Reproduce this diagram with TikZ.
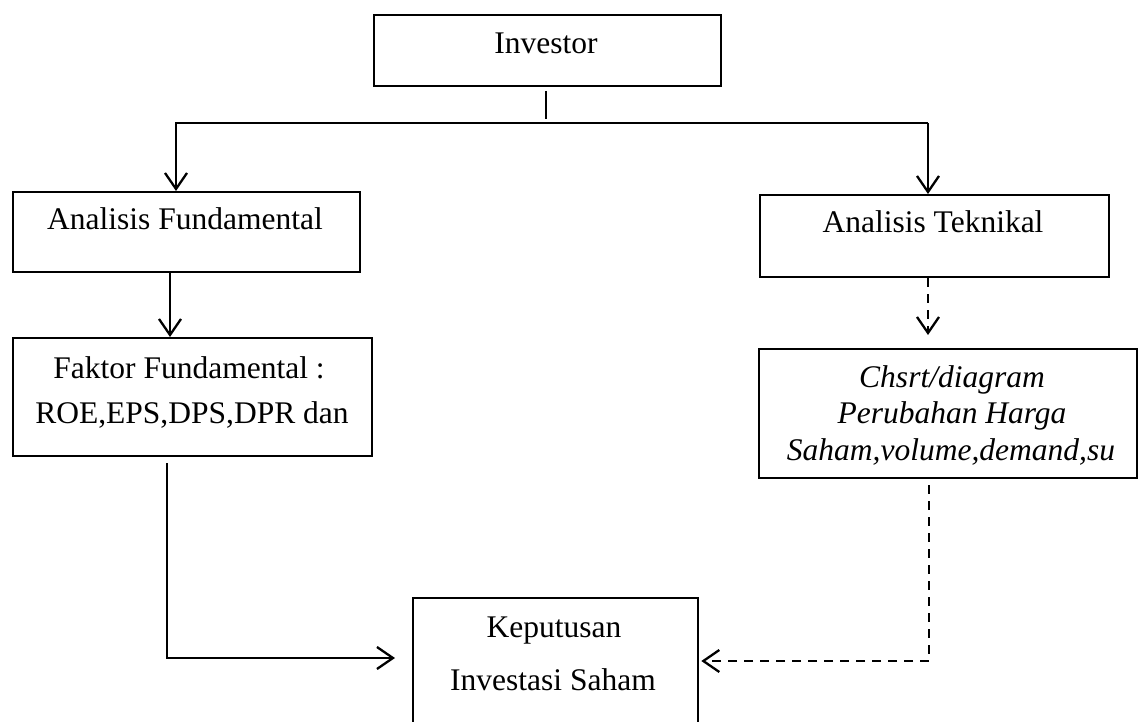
\documentclass[tikz,border=0pt]{standalone}
\usepackage{fontspec}
\setmainfont{Liberation Serif}
\usetikzlibrary{arrows.meta}
\begin{document}
\begin{tikzpicture}[x=1pt,y=-1pt,
  box/.style={draw,line width=2.3pt,inner sep=0pt,anchor=north west},
  txt/.style={anchor=base,inner sep=0pt,font=\fontsize{31.5}{36}\selectfont},
  conn/.style={line width=2.3pt},
  arr/.style={conn,-{Straight Barb[length=16pt,width=22pt,line width=2.3pt]}},
  dsh/.style={dash pattern=on 9pt off 7pt}]
\useasboundingbox (0,0) rectangle (1141,722);
% boxes
\node[box,minimum width=347pt,minimum height=71pt] (inv) at (373,14) {};
\node[box,minimum width=347pt,minimum height=80pt] (af) at (12,191) {};
\node[box,minimum width=349pt,minimum height=82pt] (at) at (759,194) {};
\node[box,minimum width=359pt,minimum height=118pt] (ff) at (12,337) {};
\node[box,minimum width=378pt,minimum height=129pt] (ch) at (758,348) {};
\node[box,minimum width=285pt,minimum height=140pt] (kep) at (412,597) {};
% texts
\node[txt] (tinv) at (546,54) {Investor};
\node[txt] (taf) at (185,230) {Analisis Fundamental};
\node[txt] (tat) at (933,233) {Analisis Teknikal};
\node[txt] (tff1) at (189,378) {Faktor Fundamental :};
\node[txt] (tff2) at (192,423) {ROE,EPS,DPS,DPR dan};
\node[txt,font=\fontsize{31.5}{36}\selectfont\itshape] (tch1) at (952,387) {Chsrt/diagram};
\node[txt,font=\fontsize{31.5}{36}\selectfont\itshape] (tch2) at (952,423) {Perubahan Harga};
\node[txt,font=\fontsize{31.5}{36}\selectfont\itshape] (tch3) at (951,460) {Saham,volume,demand,su};
\node[txt] (tk1) at (554,637) {Keputusan};
\node[txt] (tk2) at (553,690) {Investasi Saham};
% connectors
\coordinate (s1) at (546,91);
\coordinate (s2) at (546,119);
\draw[conn] (s1) -- (s2);
\coordinate (hl) at (176,123);
\coordinate (hr) at (928,123);
\draw[arr] (hr) -- (hl) -- (hl |- af.north);
\draw[arr] (hr) -- (hr |- at.north);
\coordinate (c1) at (170,0);
\draw[arr] (c1 |- af.south) -- (c1 |- ff.north);
\coordinate (f1) at (167,463);
\coordinate (f2) at (167,658);
\draw[arr,shorten >=17pt] (f1) -- (f2) -- (f2 -| kep.west);
\coordinate (c2) at (928,0);
\draw[arr,dsh,shorten >=13pt] (c2 |- at.south) -- (c2 |- ch.north);
\coordinate (d1) at (929,485);
\coordinate (d2) at (929,661);
\draw[arr,dsh,shorten >=2pt] (d1) -- (d2) -- (d2 -| kep.east);
\end{tikzpicture}
\end{document}
